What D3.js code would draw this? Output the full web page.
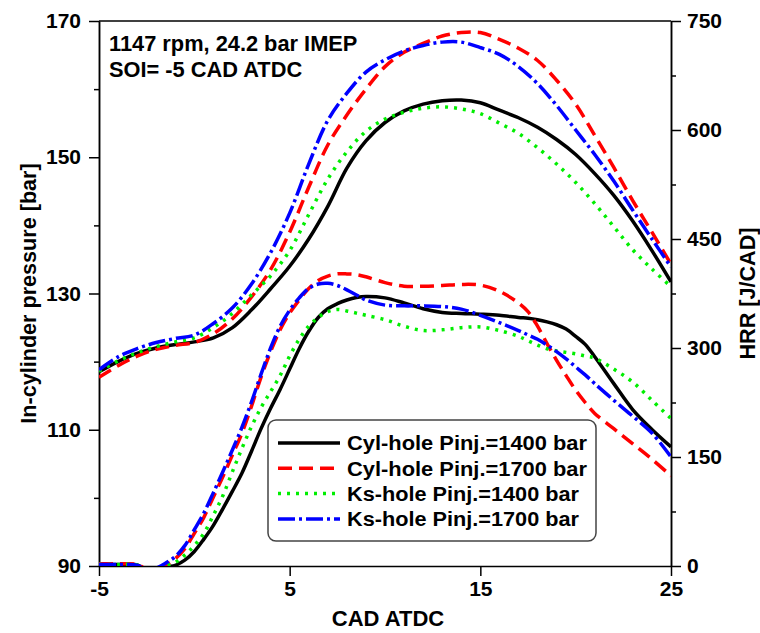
<!DOCTYPE html>
<html>
<head>
<meta charset="utf-8">
<script src="https://cdn.jsdelivr.net/npm/d3@7"></script>
<style>
  body { margin: 0; background: #fff; }
  svg { display: block; font-family: "Liberation Sans", Arial, sans-serif; font-weight: bold; }
</style>
</head>
<body>
<svg id="chart" width="760" height="633"></svg>
<script>
// crank angle grids [CAD ATDC]
const cadP = [-5,-4,-3,-2,-1,0,1,2,3,4,5,6,7,8,9,10,11,12,13,14,15,16,17,18,19,20,21,22,23,24,25];
const cadH = [-5,-4,-3,-2.5,-2,-1.5,-1,-0.5,0,0.5,1,1.5,2,2.5,3,3.5,4,4.5,5,5.5,6,6.5,7,7.5,8,8.5,9,
  10,11,12,13,14,15,16,17,17.5,18,18.5,19,19.5,20,20.5,21,22,23,24,25];

const seriesNames = [
  "Cyl-hole Pinj.=1400 bar",
  "Cyl-hole Pinj.=1700 bar",
  "Ks-hole Pinj.=1400 bar",
  "Ks-hole Pinj.=1700 bar",
];

// in-cylinder pressure [bar]
const pCyl1400 = [118.5,120.0,121.2,122.0,122.5,122.9,123.5,125.0,127.6,130.7,134.0,138.0,142.8,148.4,152.4,155.1,
  156.8,157.8,158.3,158.4,158.0,156.9,155.8,154.4,152.6,150.4,147.6,144.4,140.6,136.3,131.7];
const pCyl1700 = [117.7,119.4,120.8,121.8,122.4,122.8,124.1,126.3,129.5,133.5,139.0,145.6,151.8,156.2,160.0,163.3,
  165.4,166.7,167.8,168.3,168.3,167.3,166.0,164.2,161.3,157.8,153.2,148.5,143.6,139.0,134.3];
const pKs1400 = [118.6,120.1,121.3,122.2,122.9,123.5,125.0,127.1,129.8,132.6,136.3,141.6,146.8,150.8,153.8,155.6,
  156.6,157.2,157.4,157.1,156.4,155.0,153.5,151.4,149.0,146.3,143.2,139.8,136.4,133.6,131.0];
const pKs1700 = [118.8,120.7,121.9,122.8,123.4,123.9,125.6,127.9,131.4,136.0,141.8,149.0,155.4,159.4,162.5,164.3,
  165.6,166.4,166.9,166.9,166.1,165.1,163.3,160.8,157.6,154.0,150.4,146.5,142.2,138.0,133.9];

// heat release rate [J/CAD]
const hCyl1400 = [2,2,1.5,-6,-10,-2,1,8, 20,37,56,79,103,128,158,189,217,243,271,299,323,342,354,361,366,369.5,371,
  369,362,354,349,347.5,346.5,345,342, 341,339,336,332,326,316,305, 288,251,215,188,164];
const hCyl1700 = [3,3,2,-5,-10,1,10,24, 45,67,95,123,153,183,220,260,295,325,348,366,382,393,399,402,402,401,398,
  390,385,385,386,387.5,386.5,378,362, 350,330,306,283,262,242,225, 210,189,168,147,124];
const hKs1400 = [2,2,1.5,-6,-8,0,5,15, 28,45,70,97,130,162,192,218,240,262,289,312,330,342,350,353,351,348,345,
  339,330,324,325,328,329,324,316, 310,304,299,296,294,292,289, 286,271,253,228,203];
const hKs1700 = [2,2,1,-6,-3,4,13,28, 50,73,101,130,160,191,226,264,300,330,352,369,382,388,389,386,380,373,366,
  359,358,358,357,353.5,345,335,324, 318,312,304,295,285,274,263, 251,228,206,183,150];

const pressures = [pCyl1400, pCyl1700, pKs1400, pKs1700];
const hrrs = [hCyl1400, hCyl1700, hKs1400, hKs1700];

const xTicks = [-5, 5, 15, 25];
const pTicks = [90, 110, 130, 150, 170];
const pMinor = [100, 120, 140, 160];
const hTicks = [0, 150, 300, 450, 600, 750];
const hMinor = [75, 225, 375, 525, 675];

// line styles, same order as seriesNames
const styles = [
  { color: "#000000", dash: null },
  { color: "#ff0000", dash: "14,7" },
  { color: "#00ee00", dash: "3,6" },
  { color: "#0000ff", dash: "17,4,3,4" },
];

const svg = d3.select("#chart");
const plotL = 99, plotR = 671, plotT = 21, plotB = 566;

const x = d3.scaleLinear([-5, 25], [plotL, plotR]);
const yP = d3.scaleLinear([90, 170], [plotB, plotT]);
const yH = d3.scaleLinear([0, 750], [plotB, plotT]);

svg.append("defs").append("clipPath").attr("id", "plot")
  .append("rect")
  .attr("x", plotL).attr("y", plotT)
  .attr("width", plotR - plotL).attr("height", plotB - plotT);

const plain = (d) => String(d); // keep the ascii hyphen for "-5"

const styleAxis = (g) => {
  g.attr("font-size", 21).attr("font-family", null);
  g.select(".domain").attr("stroke-width", 1.5);
  g.selectAll(".tick line").attr("stroke-width", 1.5);
  g.selectAll(".tick text").attr("fill", "#000");
};

// axes
svg.append("g").attr("transform", `translate(${plotL},0)`)
  .call(d3.axisLeft(yP).tickValues(pMinor).tickSize(5).tickSizeOuter(0).tickFormat(""))
  .call(styleAxis);
svg.append("g").attr("transform", `translate(${plotL},0)`)
  .call(d3.axisLeft(yP).tickValues(pTicks).tickSize(10).tickSizeOuter(0).tickPadding(8).tickFormat(plain))
  .call(styleAxis);

svg.append("g").attr("transform", `translate(${plotR},0)`)
  .call(d3.axisRight(yH).tickValues(hMinor).tickSize(5).tickSizeOuter(0).tickFormat(""))
  .call(styleAxis);
svg.append("g").attr("transform", `translate(${plotR},0)`)
  .call(d3.axisRight(yH).tickValues(hTicks).tickSize(10).tickSizeOuter(0).tickPadding(6).tickFormat(plain))
  .call(styleAxis);

svg.append("g").attr("transform", `translate(0,${plotB})`)
  .call(d3.axisBottom(x).tickValues(xTicks).tickSize(10).tickSizeOuter(0).tickPadding(5).tickFormat(plain))
  .call(styleAxis);

svg.append("line")
  .attr("x1", plotL).attr("x2", plotR).attr("y1", plotT).attr("y2", plotT)
  .attr("stroke", "#000").attr("stroke-width", 1.5);

// axis titles
svg.append("text")
  .attr("x", (plotL + plotR) / 2 + 3).attr("y", 626)
  .attr("text-anchor", "middle").attr("font-size", 22)
  .text("CAD ATDC");
svg.append("text")
  .attr("transform", `translate(36,${(plotT + plotB) / 2}) rotate(-90)`)
  .attr("text-anchor", "middle").attr("font-size", 21.6)
  .text("In-cylinder pressure [bar]");
svg.append("text")
  .attr("transform", `translate(755,${(plotT + plotB) / 2}) rotate(-90)`)
  .attr("text-anchor", "middle").attr("font-size", 21.6)
  .text("HRR [J/CAD]");

// annotation
svg.append("text").attr("x", 109).attr("y", 51).attr("font-size", 21.8)
  .text("1147 rpm, 24.2 bar IMEP");
svg.append("text").attr("x", 109).attr("y", 77).attr("font-size", 21.8)
  .text("SOI= -5 CAD ATDC");

// curves
const smooth = d3.curveCatmullRom.alpha(0.5);
const lineP = (vals) => d3.line().x((d, i) => x(cadP[i])).y((d) => yP(d)).curve(smooth)(vals);
const lineH = (vals) => d3.line().x((d, i) => x(cadH[i])).y((d) => yH(d)).curve(smooth)(vals);

const curves = svg.append("g").attr("clip-path", "url(#plot)")
  .attr("fill", "none").attr("stroke-width", 3.5);

seriesNames.forEach((name, i) => {
  const s = styles[i];
  [lineH(hrrs[i]), lineP(pressures[i])].forEach((path) => {
    curves.append("path")
      .attr("d", path)
      .attr("stroke", s.color)
      .attr("stroke-dasharray", s.dash);
  });
});

// legend
const legend = svg.append("g");
legend.append("rect")
  .attr("x", 268).attr("y", 420).attr("width", 328).attr("height", 121)
  .attr("rx", 8).attr("fill", "#fff").attr("stroke", "#444").attr("stroke-width", 1.5);

const textWidths = [240, 240, 232, 232];
seriesNames.forEach((name, i) => {
  const yy = 443 + i * 25.3;
  legend.append("line")
    .attr("x1", 278).attr("x2", 340).attr("y1", yy).attr("y2", yy)
    .attr("stroke", styles[i].color).attr("stroke-width", 3.5)
    .attr("stroke-dasharray", styles[i].dash);
  legend.append("text")
    .attr("x", 347).attr("y", yy).attr("dy", "0.36em")
    .attr("font-size", 20)
    .attr("textLength", textWidths[i]).attr("lengthAdjust", "spacingAndGlyphs")
    .text(name);
});
</script>
</body>
</html>
